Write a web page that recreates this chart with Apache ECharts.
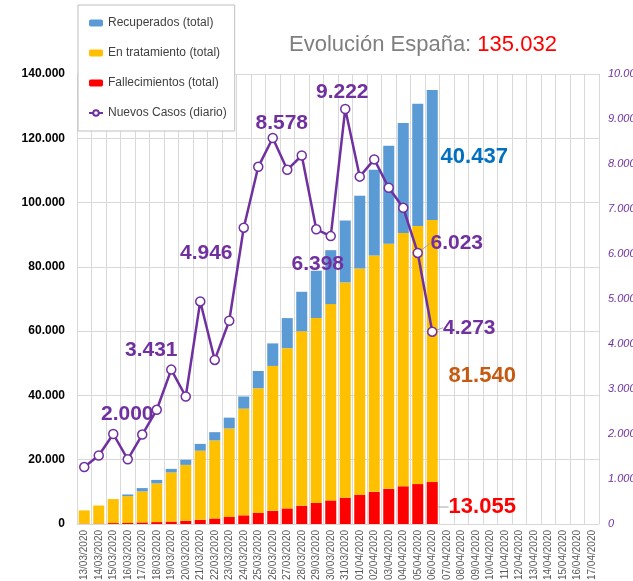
<!DOCTYPE html>
<html>
<head>
<meta charset="utf-8">
<script src="https://cdn.jsdelivr.net/npm/echarts@6/dist/echarts.min.js"></script>
<style>html,body{margin:0;padding:0;background:#fff;}#c{width:633px;height:581px;}</style>
</head>
<body>
<div id="c"></div>
<script>
const categories = ['13/03/2020','14/03/2020','15/03/2020','16/03/2020','17/03/2020','18/03/2020','19/03/2020','20/03/2020','21/03/2020','22/03/2020','23/03/2020','24/03/2020','25/03/2020','26/03/2020','27/03/2020','28/03/2020','29/03/2020','30/03/2020','31/03/2020','01/04/2020','02/04/2020','03/04/2020','04/04/2020','05/04/2020','06/04/2020','07/04/2020','08/04/2020','09/04/2020','10/04/2020','11/04/2020','12/04/2020','13/04/2020','14/04/2020','15/04/2020','16/04/2020','17/04/2020'];
const fallecimientos = [120,136,288,309,491,598,767,1002,1326,1720,2182,2696,3434,4089,4858,5690,6528,7340,8189,9053,10003,10935,11744,12418,13055];
const enTratamiento = [4111,5617,7465,8352,9659,12037,15273,17390,21475,24277,27552,33183,38809,45084,49844,54273,57560,61075,66969,70436,73492,76262,78773,80261,81540];
const recuperados = [0,0,0,530,1028,1081,1107,1588,2125,2575,3355,3794,5367,7015,9357,12285,14709,16780,19259,22647,26743,30513,34219,38080,40437];
const nuevosCasos = [1266,1522,2000,1438,1987,2538,3431,2833,4946,3646,4517,6584,7937,8578,7871,8189,6549,6398,9222,7719,8102,7472,7026,6023,4273];
const totalCasos = 135032;
const leftTicks = {min:0, max:140000, interval:20000};
const rightTicks = {min:0, max:10000, interval:1000};

const fmt = n => String(n).replace(/\B(?=(\d{3})+(?!\d))/g, '.');
const lastIdx = nuevosCasos.length - 1;

const lineLabelOffsets = {2:[14,-20],6:[-20,-19],8:[6,-48],13:[9,-15],17:[-13,28],18:[-3,-17],23:[39,-10],24:[37,-4]};
const leader = {23:true,24:true};

const labelFont = {fontFamily:'Liberation Sans, Arial, sans-serif', fontWeight:'bold', fontSize:21};

function barSeries(name, data, color, labelColor, dx, dy, showLine){
  return {
    name, type:'bar', stack:'t', yAxisIndex:0, barCategoryGap:'24%',
    itemStyle:{color},
    data: data.map((v,i)=>({value:v, label:{show:i===lastIdx}, labelLine:{show: showLine && i===lastIdx}})),
    label:{position:'inside', formatter:p=>fmt(p.value), color:labelColor, ...labelFont, fontSize:22},
    labelLine:{lineStyle:{color:'#a6a6a6', width:1}},
    labelLayout: p => p.dataIndex===lastIdx ? {dx, dy} : {},
    emphasis:{disabled:true}
  };
}

const chart = echarts.init(document.getElementById('c'), null, {renderer:'canvas'});
chart.setOption({
  animation:false,
  backgroundColor:'#fff',
  title:{
    text:'{a|Evolución España: }{b|' + fmt(totalCasos) + '}',
    left:284, top:29,
    textStyle:{fontWeight:'normal', rich:{
      a:{fontFamily:'Liberation Sans, Arial, sans-serif', fontWeight:'normal', fontSize:22, color:'#7f7f7f'},
      b:{fontFamily:'Liberation Sans, Arial, sans-serif', fontWeight:'normal', fontSize:22, color:'#ff0000'}
    }}
  },
  legend:{
    orient:'vertical', left:78, top:5,
    data:['Recuperados (total)','En tratamiento (total)','Fallecimientos (total)','Nuevos Casos (diario)'],
    itemWidth:14, itemHeight:7, itemGap:18,
    padding:[12,8,12,10],
    backgroundColor:'#fff', borderColor:'#bfbfbf', borderWidth:1,
    textStyle:{fontFamily:'Liberation Sans, Arial, sans-serif', fontSize:12, color:'#404040'},
    z:10
  },
  grid:{left:77, right:34, top:74, bottom:57, outerBoundsMode:'none', containLabel:false},
  xAxis:{
    type:'category', data:categories, boundaryGap:true,
    axisLine:{lineStyle:{color:'#d9d9d9'}},
    axisTick:{show:false},
    splitLine:{show:true, interval:0, lineStyle:{color:'#d9d9d9', width:1}},
    axisLabel:{interval:0, rotate:90, margin:6, color:'#595959', fontSize:10, fontFamily:'Liberation Sans, Arial, sans-serif'}
  },
  yAxis:[
    {type:'value', min:leftTicks.min, max:leftTicks.max, interval:leftTicks.interval,
     axisLine:{show:true, lineStyle:{color:'#d9d9d9'}}, axisTick:{show:false},
     splitLine:{lineStyle:{color:'#d9d9d9'}},
     axisLabel:{formatter:fmt, margin:12, color:'#000', fontWeight:'bold', fontSize:12, fontFamily:'Liberation Sans, Arial, sans-serif'}},
    {type:'value', min:rightTicks.min, max:rightTicks.max, interval:rightTicks.interval, position:'right',
     axisLine:{show:false}, axisTick:{show:false}, splitLine:{show:false},
     axisLabel:{formatter:fmt, margin:9, color:'#7030a0', fontStyle:'italic', fontSize:11, fontFamily:'Liberation Sans, Arial, sans-serif'}}
  ],
  series:[
    barSeries('Fallecimientos (total)', fallecimientos, '#ff0000', '#ff0000', 50, 4, true),
    barSeries('En tratamiento (total)', enTratamiento, '#ffc000', '#c55a11', 50, 25, false),
    barSeries('Recuperados (total)', recuperados, '#5b9bd5', '#0070c0', 42, 2, false),
    {
      name:'Nuevos Casos (diario)', type:'line', yAxisIndex:1,
      symbol:'circle', symbolSize:9,
      lineStyle:{color:'#7030a0', width:2.5},
      itemStyle:{color:'#fff', borderColor:'#7030a0', borderWidth:1.5},
      data: nuevosCasos.map((v,i)=>({value:v, label:{show: i in lineLabelOffsets}, labelLine:{show: !!leader[i]}})),
      label:{position:'inside', formatter:p=>fmt(p.value), color:'#7030a0', ...labelFont},
      labelLine:{lineStyle:{color:'#a6a6a6', width:1}},
      labelLayout: p => { const o = lineLabelOffsets[p.dataIndex]; return o ? {dx:o[0], dy:o[1]} : {}; },
      emphasis:{disabled:true},
      z:5
    }
  ]
});
</script>
</body>
</html>
